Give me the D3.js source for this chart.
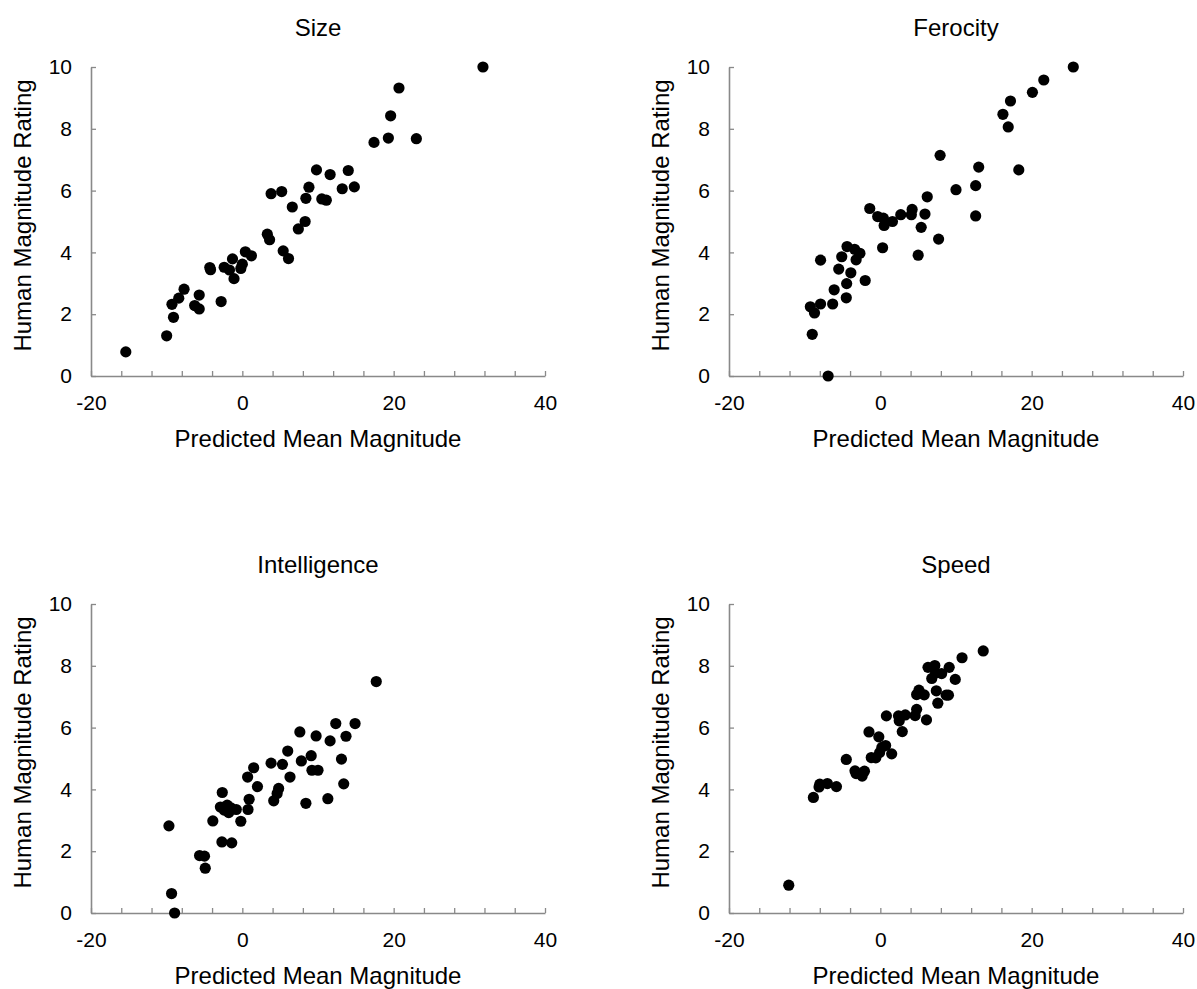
<!DOCTYPE html>
<html>
<head>
<meta charset="utf-8">
<script src="https://cdn.jsdelivr.net/npm/d3@7"></script>
<style>
  body { margin: 0; background: #fff; }
  text { font-family: "Liberation Sans", Arial, sans-serif; fill: #000; }
</style>
</head>
<body>
<div class="chart"></div>
<script>
// panel titles
var panelTitles = ["Size", "Ferocity", "Intelligence", "Speed"];

// axis ticks
var xTicks = d3.range(-20, 41, 4);
var yTicks = [0, 2, 4, 6, 8, 10];

// [predicted mean magnitude, human rating] for each panel
var sizeData = [
  [-15.4, 0.78], [-10.0, 1.30], [-9.1, 1.90], [-9.3, 2.32], [-8.4, 2.52], [-7.7, 2.81],
  [-6.3, 2.28], [-5.7, 2.17], [-5.7, 2.62], [-4.3, 3.51], [-4.2, 3.44], [-2.8, 2.41],
  [-2.4, 3.52], [-1.7, 3.43], [-1.3, 3.79], [-1.1, 3.15], [-0.2, 3.48], [0.0, 3.62],
  [0.4, 4.02], [1.2, 3.89], [3.3, 4.59], [3.6, 4.41], [3.8, 5.90], [5.2, 5.97],
  [5.4, 4.05], [6.1, 3.80], [6.6, 5.47], [7.4, 4.76], [8.3, 5.00], [8.4, 5.75],
  [8.8, 6.11], [9.8, 6.67], [10.5, 5.73], [11.1, 5.69], [11.6, 6.52], [13.2, 6.06],
  [14.0, 6.65], [14.8, 6.12], [17.4, 7.56], [19.3, 7.70], [19.6, 8.42], [20.7, 9.32],
  [23.0, 7.68], [31.8, 10.0]
];

var ferocityData = [
  [25.5, 10.0], [21.6, 9.58], [20.1, 9.18], [17.2, 8.90], [16.2, 8.47], [16.9, 8.06],
  [7.9, 7.14], [13.0, 6.76], [18.3, 6.67], [10.0, 6.03], [12.6, 6.16], [6.2, 5.80],
  [-1.4, 5.42], [-0.35, 5.16], [0.4, 5.11], [0.5, 4.87], [1.6, 5.00], [2.7, 5.22],
  [4.2, 5.39], [4.1, 5.22], [5.9, 5.24], [5.4, 4.81], [12.6, 5.18], [7.7, 4.43],
  [0.3, 4.15], [5.0, 3.91], [-4.4, 4.19], [-3.4, 4.10], [-2.7, 3.97], [-3.2, 3.76],
  [-5.1, 3.86], [-7.9, 3.75], [-5.5, 3.46], [-3.9, 3.34], [-4.45, 2.99], [-2.0, 3.09],
  [-6.1, 2.79], [-4.5, 2.53], [-6.3, 2.33], [-7.9, 2.33], [-9.25, 2.24], [-8.7, 2.04],
  [-9.0, 1.35], [-6.9, 0.0]
];

var intelligenceData = [
  [17.7, 7.49], [12.35, 6.13], [14.9, 6.13], [7.6, 5.86], [9.75, 5.73], [13.7, 5.72],
  [11.6, 5.57], [6.0, 5.24], [9.1, 5.09], [7.8, 4.92], [3.8, 4.85], [5.3, 4.81],
  [13.1, 4.98], [1.5, 4.70], [9.2, 4.62], [10.0, 4.62], [0.7, 4.40], [6.3, 4.40],
  [2.0, 4.09], [4.8, 4.03], [4.6, 3.87], [13.4, 4.18], [4.15, 3.63], [8.4, 3.55],
  [11.3, 3.70], [-2.65, 3.90], [0.9, 3.68], [0.75, 3.35], [-2.9, 3.43], [-2.0, 3.49],
  [-1.5, 3.40], [-2.4, 3.33], [-1.8, 3.25], [-0.8, 3.35], [-3.9, 2.98], [-0.2, 2.97],
  [-9.7, 2.82], [-2.7, 2.30], [-1.4, 2.27], [-5.65, 1.86], [-5.0, 1.84], [-4.9, 1.45],
  [-9.35, 0.63], [-8.95, 0.0]
];

var speedData = [
  [-12.1, 0.90], [-8.85, 3.74], [-8.1, 4.08], [-8.0, 4.17], [-7.0, 4.19], [-5.8, 4.09],
  [-4.5, 4.97], [-3.35, 4.60], [-3.2, 4.51], [-2.4, 4.43], [-2.1, 4.59], [-1.5, 5.86],
  [-1.2, 5.03], [-0.6, 5.02], [-0.2, 5.70], [-0.1, 5.19], [0.2, 5.36], [0.7, 5.42],
  [1.5, 5.15], [0.8, 6.38], [2.4, 6.38], [2.5, 6.22], [3.3, 6.41], [2.9, 5.87],
  [4.6, 6.39], [4.8, 6.59], [6.1, 6.25], [4.8, 7.07], [5.1, 7.21], [5.8, 7.06],
  [7.4, 7.19], [7.6, 6.79], [8.7, 7.05], [9.0, 7.05], [6.3, 7.95], [7.2, 8.01],
  [7.3, 7.77], [6.8, 7.59], [8.1, 7.75], [9.1, 7.95], [9.9, 7.56], [10.8, 8.26],
  [13.6, 8.48]
];

var panelData = [sizeData, ferocityData, intelligenceData, speedData];

// panel placement: left edge and top of plot area
var panelLeft = [91, 729, 91, 729];
var panelTop = [67, 67, 604, 604];
var plotW = 454, plotH = 309;
var axisGrey = "#898989";

var svg = d3.select(".chart").append("svg")
  .attr("width", 1197)
  .attr("height", 989);

panelTitles.forEach(function(title, i) {
  var g = svg.append("g")
    .attr("transform", "translate(" + panelLeft[i] + "," + panelTop[i] + ")");

  var x = d3.scaleLinear().domain([-20, 40]).range([0, plotW]);
  var y = d3.scaleLinear().domain([0, 10]).range([plotH, 0]);

  // x axis, ticks pointing inward, labels only every 20
  var xAxis = g.append("g")
    .attr("transform", "translate(0," + plotH + ")")
    .call(d3.axisBottom(x)
      .tickValues(xTicks)
      .tickSizeInner(-5)
      .tickSizeOuter(0)
      .tickPadding(19)
      .tickFormat(function(d) { return d % 20 === 0 ? d : ""; }));

  // y axis
  var yAxis = g.append("g")
    .call(d3.axisLeft(y)
      .tickValues(yTicks)
      .tickSizeInner(-5)
      .tickSizeOuter(0)
      .tickPadding(19));

  [xAxis, yAxis].forEach(function(ax) {
    ax.select(".domain").attr("stroke", axisGrey).attr("stroke-width", 1.6);
    ax.selectAll(".tick line").attr("stroke", axisGrey).attr("stroke-width", 1.3);
    ax.selectAll(".tick text")
      .attr("fill", "#000")
      .style("font-family", "'Liberation Sans', Arial, sans-serif")
      .style("font-size", "21px");
  });

  // titles
  g.append("text")
    .attr("x", plotW / 2)
    .attr("y", -31)
    .attr("text-anchor", "middle")
    .style("font-size", "24px")
    .text(title);

  g.append("text")
    .attr("x", plotW / 2)
    .attr("y", plotH + 71)
    .attr("text-anchor", "middle")
    .style("font-size", "24px")
    .text("Predicted Mean Magnitude");

  g.append("text")
    .attr("transform", "translate(-60," + (plotH / 2 - 6) + ") rotate(-90)")
    .attr("text-anchor", "middle")
    .style("font-size", "24px")
    .text("Human Magnitude Rating");

  // points
  g.selectAll("circle")
    .data(panelData[i])
    .enter()
    .append("circle")
    .attr("cx", function(d) { return x(d[0]); })
    .attr("cy", function(d) { return y(d[1]); })
    .attr("r", 5.6)
    .style("fill", "#000");
});
</script>
</body>
</html>
